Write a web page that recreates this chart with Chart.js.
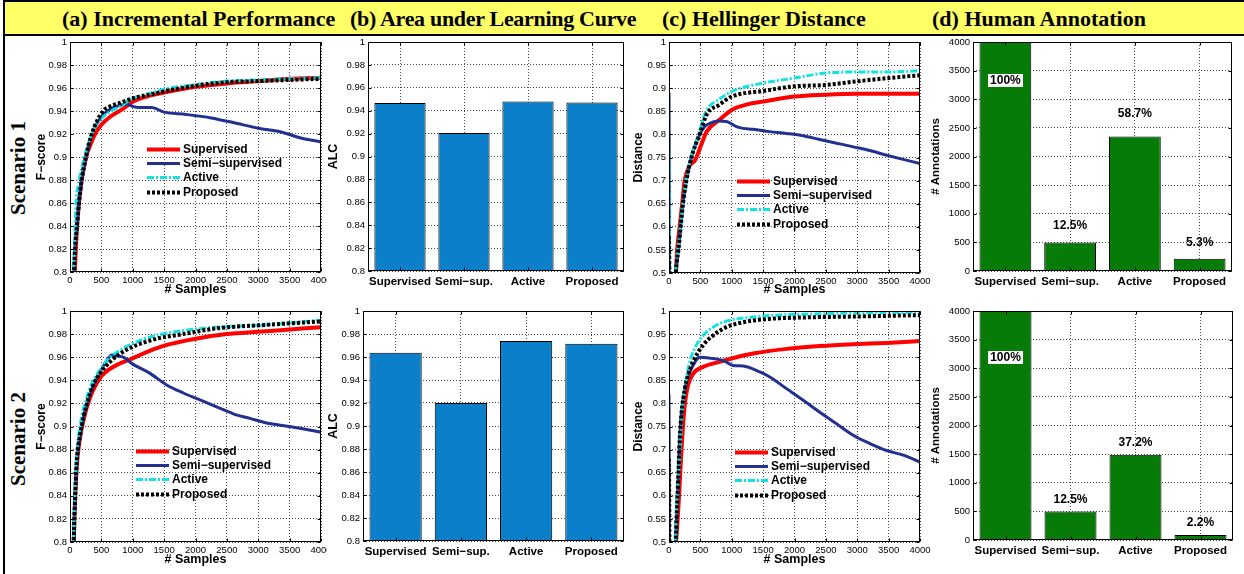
<!DOCTYPE html>
<html>
<head>
<meta charset="utf-8">
<script src="https://cdn.jsdelivr.net/npm/chart.js@4.4.1/dist/chart.umd.min.js"></script>
<style>
  html, body { margin: 0; padding: 0; background: #fff; }
  #page { position: relative; width: 1244px; height: 574px; overflow: hidden; background: #fff; }
  #bar { position: absolute; left: 3px; top: 0; width: 1241px; height: 32px; background: #ffff66;
         border-top: 2px solid #000; border-bottom: 2px solid #000; }
  #edge { position: absolute; left: 3px; top: 0; width: 2px; height: 574px; background: #000; }
  .head { position: absolute; top: 7px; font: bold 22px "Liberation Serif", "Times New Roman", serif;
          white-space: nowrap; line-height: 24px; color: #000; }
  .scen { position: absolute; font: bold 21px "Liberation Serif", "Times New Roman", serif; white-space: nowrap;
          color: #000; transform: translate(-50%, -50%) rotate(-90deg); }
  canvas { position: absolute; }
</style>
</head>
<body>
<div id="page">
  <div id="bar"></div>
  <div id="edge"></div>
  <div class="head" style="left:62px">(a) Incremental Performance</div>
  <div class="head" style="left:350px; letter-spacing:-0.3px">(b) Area under Learning Curve</div>
  <div class="head" style="left:662px">(c) Hellinger Distance</div>
  <div class="head" style="left:932px">(d) Human Annotation</div>
  <div class="scen" style="left:18px; top:168px">Scenario 1</div>
  <div class="scen" style="left:18px; top:439px">Scenario 2</div>
</div>
<script>
// ---------------- data ----------------
const methodNames = ['Supervised', 'Semi\u2212supervised', 'Active', 'Proposed'];
const barCategories = ['Supervised', 'Semi\u2212sup.', 'Active', 'Proposed'];

const sampleTicks = [0, 500, 1000, 1500, 2000, 2500, 3000, 3500, 4000];
const fScoreTicks = [0.8, 0.82, 0.84, 0.86, 0.88, 0.9, 0.92, 0.94, 0.96, 0.98, 1];
const distanceTicks = [0.5, 0.55, 0.6, 0.65, 0.7, 0.75, 0.8, 0.85, 0.9, 0.95, 1];
const alcTicks = [0.8, 0.82, 0.84, 0.86, 0.88, 0.9, 0.92, 0.94, 0.96, 0.98, 1];
const annotationTicks = [0, 500, 1000, 1500, 2000, 2500, 3000, 3500, 4000];

// Scenario 1, F-score against number of samples: [samples, F-score]
const s1FSupervised = [[50,0.78],[80,0.805],[112,0.84],[143,0.86],[186,0.88],[255,0.9],[320,0.91],[400,0.92],[500,0.928],[640,0.935],[850,0.942],[1000,0.948],[1250,0.953],[1500,0.956],[2000,0.961],[2500,0.964],[3000,0.966],[3500,0.968],[4000,0.969]];
const s1FSemi = [[50,0.78],[80,0.82],[112,0.84],[143,0.86],[186,0.88],[255,0.9],[346,0.92],[500,0.935],[650,0.942],[800,0.945],[900,0.946],[1000,0.944],[1100,0.943],[1300,0.943],[1500,0.939],[1850,0.937],[2250,0.934],[2600,0.93],[3000,0.925],[3350,0.922],[3650,0.917],[4000,0.913]];
const s1FActive = [[50,0.79],[70,0.82],[96,0.86],[130,0.875],[186,0.89],[255,0.905],[346,0.92],[450,0.93],[550,0.936],[660,0.94],[800,0.944],[1000,0.951],[1250,0.955],[1500,0.959],[2000,0.963],[2500,0.966],[3000,0.967],[3500,0.968],[4000,0.969]];
const s1FProposed = [[50,0.78],[80,0.82],[112,0.84],[143,0.86],[186,0.88],[255,0.9],[346,0.92],[530,0.94],[640,0.944],[800,0.947],[1000,0.951],[1250,0.954],[1500,0.957],[2000,0.962],[2500,0.965],[3000,0.966],[3500,0.967],[4000,0.968]];

// Scenario 1, Hellinger distance: [samples, distance]
const s1HSupervised = [[0,0.45],[100,0.48],[130,0.55],[170,0.6],[210,0.65],[250,0.7],[320,0.73],[420,0.745],[520,0.78],[600,0.806],[800,0.831],[1000,0.853],[1250,0.865],[1500,0.871],[2000,0.882],[2500,0.886],[3000,0.888],[3500,0.888],[4000,0.888]];
const s1HSemi = [[0,0.89],[12,0.45],[100,0.49],[120,0.52],[150,0.55],[186,0.6],[223,0.65],[277,0.7],[356,0.75],[489,0.8],[570,0.817],[620,0.822],[800,0.829],[915,0.828],[1075,0.817],[1180,0.813],[1340,0.811],[1600,0.806],[1870,0.802],[2140,0.797],[2400,0.789],[2670,0.781],[2940,0.773],[3200,0.765],[3470,0.755],[3730,0.746],[4000,0.737]];
const s1HActive = [[0,0.76],[12,0.45],[95,0.5],[140,0.55],[180,0.6],[220,0.65],[270,0.7],[350,0.75],[470,0.8],[590,0.85],[800,0.876],[1000,0.893],[1500,0.911],[2000,0.922],[2500,0.933],[3000,0.935],[3500,0.935],[4000,0.938]];
const s1HProposed = [[0,0.58],[12,0.45],[100,0.49],[120,0.52],[150,0.55],[186,0.6],[223,0.65],[277,0.7],[356,0.75],[489,0.8],[600,0.843],[800,0.864],[1000,0.882],[1500,0.894],[2000,0.904],[2500,0.907],[3000,0.915],[3500,0.922],[4000,0.928]];

// Scenario 2, F-score
const s2FSupervised = [[50,0.78],[70,0.82],[106,0.864],[159,0.89],[212,0.905],[319,0.925],[478,0.942],[700,0.952],[1000,0.959],[1250,0.965],[1500,0.97],[2000,0.976],[2500,0.98],[3000,0.982],[3500,0.984],[4000,0.986]];
const s2FSemi = [[50,0.78],[70,0.82],[106,0.866],[159,0.892],[266,0.919],[372,0.936],[478,0.947],[584,0.957],[664,0.962],[750,0.961],[850,0.96],[1000,0.954],[1275,0.946],[1540,0.936],[1806,0.929],[2072,0.923],[2337,0.917],[2603,0.911],[2869,0.907],[3134,0.903],[3500,0.9],[4000,0.895]];
const s2FActive = [[50,0.79],[70,0.83],[100,0.87],[159,0.9],[266,0.925],[372,0.94],[478,0.949],[637,0.96],[800,0.966],[1000,0.972],[1380,0.979],[1800,0.983],[2340,0.986],[3130,0.988],[4000,0.992]];
const s2FProposed = [[50,0.78],[70,0.82],[90,0.85],[106,0.869],[159,0.892],[266,0.919],[372,0.936],[478,0.946],[637,0.956],[797,0.963],[1000,0.969],[1380,0.976],[1800,0.98],[2340,0.985],[3130,0.988],[4000,0.991]];

// Scenario 2, Hellinger distance
const s2HSupervised = [[0,0.45],[110,0.5],[160,0.6],[197,0.695],[250,0.796],[303,0.839],[383,0.864],[543,0.879],[809,0.89],[1074,0.9],[1340,0.908],[1872,0.918],[2404,0.924],[2936,0.928],[3468,0.931],[4000,0.935]];
const s2HSemi = [[0,0.82],[10,0.45],[100,0.48],[120,0.55],[150,0.65],[170,0.72],[200,0.78],[277,0.846],[383,0.882],[489,0.9],[649,0.898],[862,0.893],[1021,0.882],[1181,0.881],[1447,0.868],[1606,0.857],[1872,0.832],[2138,0.807],[2404,0.781],[2670,0.756],[2936,0.731],[3202,0.713],[3468,0.698],[3734,0.688],[4000,0.673]];
const s2HActive = [[0,0.45],[95,0.5],[130,0.6],[170,0.68],[200,0.76],[250,0.83],[330,0.89],[436,0.926],[543,0.947],[702,0.965],[915,0.978],[1340,0.987],[1872,0.992],[2404,0.994],[3000,0.996],[4000,0.998]];
const s2HProposed = [[0,0.68],[10,0.45],[100,0.48],[120,0.55],[150,0.65],[170,0.72],[200,0.78],[250,0.83],[300,0.86],[383,0.89],[543,0.926],[702,0.947],[915,0.965],[1234,0.977],[1606,0.983],[2138,0.986],[2936,0.988],[4000,0.991]];

// Area under learning curve per method
const s1ALC = [0.9467, 0.9205, 0.948, 0.9472];
const s2ALC = [0.9638, 0.92, 0.9739, 0.9716];

// Number of human annotations per method (out of the full pool)
const annotationPool = 4000;
const s1Annotations = [4000, 500, 2348, 212];
const s2Annotations = [4000, 500, 1488, 88];

// ---------------- styling ----------------
const SANS = '"Liberation Sans", Arial, Helvetica, sans-serif';
Chart.defaults.font.family = SANS;
Chart.defaults.color = '#000';
const GRID = 'rgba(0,0,0,0.7)';
const seriesStyle = [
  { borderColor: '#ff0000', borderWidth: 4, borderDash: [], order: 3 },
  { borderColor: '#22308f', borderWidth: 3, borderDash: [], order: 2 },
  { borderColor: '#12e2e2', borderWidth: 3, borderDash: [7, 2, 2, 2], order: 1 },
  { borderColor: '#000000', borderWidth: 4, borderDash: [3, 2], order: 0 }
];
const tickFont = { size: 9.5 };

// solid box around the plot with short inward tick marks
const boxPlugin = {
  id: 'plotBox',
  afterDraw(chart) {
    const { ctx, chartArea: a, scales } = chart;
    const L = Math.round(a.left) + 0.5, R = Math.round(a.right) - 0.5;
    const T = Math.round(a.top) + 0.5, B = Math.round(a.bottom) - 0.5;
    const tl = 3;
    ctx.save();
    ctx.setLineDash([]);
    ctx.strokeStyle = '#000';
    ctx.lineWidth = 1;
    ctx.beginPath();
    scales.x.ticks.forEach((t, i) => {
      const px = Math.round(scales.x.getPixelForTick(i)) + 0.5;
      ctx.moveTo(px, B); ctx.lineTo(px, B - tl);
      ctx.moveTo(px, T); ctx.lineTo(px, T + tl);
    });
    scales.y.ticks.forEach((t, i) => {
      const py = Math.round(scales.y.getPixelForTick(i)) + 0.5;
      ctx.moveTo(L, py); ctx.lineTo(L + tl, py);
      ctx.moveTo(R, py); ctx.lineTo(R - tl, py);
    });
    ctx.stroke();
    ctx.strokeRect(L, T, R - L, B - T);
    ctx.restore();
  }
};

// legend drawn inside the plot area
const innerLegend = {
  id: 'innerLegend',
  afterDraw(chart, args, opts) {
    if (!opts || !opts.at) return;
    const { ctx, chartArea: a } = chart;
    const x0 = a.left + opts.at[0], y0 = a.top + opts.at[1];
    ctx.save();
    ctx.font = 'bold 12px ' + SANS;
    ctx.textBaseline = 'middle';
    ctx.textAlign = 'left';
    chart.data.datasets.forEach((ds, i) => {
      const y = Math.round(y0 + i * opts.rowGap) + 0.5;
      ctx.strokeStyle = ds.borderColor;
      ctx.lineWidth = ds.borderWidth;
      ctx.setLineDash(ds.borderDash || []);
      ctx.beginPath();
      ctx.moveTo(x0, y);
      ctx.lineTo(x0 + opts.sample, y);
      ctx.stroke();
      ctx.fillStyle = '#000';
      ctx.fillText(ds.label, x0 + opts.sample + 3, y);
    });
    ctx.restore();
  }
};

// percentage labels on the annotation bars
const pctLabels = {
  id: 'pctLabels',
  afterDraw(chart, args, opts) {
    if (!opts || !opts.offsets) return;
    const { ctx } = chart;
    const meta = chart.getDatasetMeta(0);
    const values = chart.data.datasets[0].data;
    ctx.save();
    ctx.font = 'bold 12px ' + SANS;
    ctx.textAlign = 'center';
    ctx.textBaseline = 'middle';
    meta.data.forEach((bar, i) => {
      const pct = values[i] / opts.total * 100;
      const text = (Number.isInteger(pct) ? String(pct) : pct.toFixed(1)) + '%';
      const x = bar.x, y = bar.y + opts.offsets[i];
      if (opts.boxed[i]) {
        const w = ctx.measureText(text).width + 4;
        ctx.fillStyle = '#fff';
        ctx.fillRect(Math.round(x - w / 2), Math.round(y - 7), Math.round(w), 13);
      }
      ctx.fillStyle = '#000';
      ctx.fillText(text, x, y);
    });
    ctx.restore();
  }
};
Chart.register(boxPlugin, innerLegend, pctLabels);

// ---------------- layout helpers ----------------
function makeCanvas(box) {
  const c = document.createElement('canvas');
  c.width = box[2] - box[0];
  c.height = box[3] - box[1];
  c.style.left = box[0] + 'px';
  c.style.top = box[1] + 'px';
  c.style.width = c.width + 'px';
  c.style.height = c.height + 'px';
  document.getElementById('page').appendChild(c);
  return c;
}
function fixedTicks(list) {
  return s => { s.ticks = list.map(v => ({ value: v })); };
}

function lineChart(box, plot, series, yTicks, yTitle, yTitleSize, xTitleGap, legendAt) {
  const yWidth = plot[0] - box[0];
  const xHeight = box[3] - plot[3];
  return new Chart(makeCanvas(box), {
    type: 'line',
    data: {
      datasets: series.map((pts, i) => Object.assign({
        label: methodNames[i],
        data: pts.map(p => ({ x: p[0], y: p[1] })),
        pointRadius: 0,
        fill: false,
        cubicInterpolationMode: 'monotone',
        borderCapStyle: 'butt',
        borderJoinStyle: 'round'
      }, seriesStyle[i]))
    },
    options: {
      responsive: false, animation: false, devicePixelRatio: 1,
      layout: { padding: { left: 0, top: plot[1] - box[1], right: box[2] - plot[2], bottom: 0 } },
      plugins: {
        legend: { display: false }, tooltip: { enabled: false },
        innerLegend: { at: legendAt, rowGap: 14.2, sample: 33 }
      },
      scales: {
        x: {
          type: 'linear', min: sampleTicks[0], max: sampleTicks[sampleTicks.length - 1],
          afterBuildTicks: fixedTicks(sampleTicks),
          ticks: { font: tickFont, padding: 3, maxRotation: 0, autoSkip: false, callback: v => String(v) },
          grid: { color: GRID, lineWidth: 1, drawTicks: false },
          border: { display: false, dash: [1, 2] },
          title: { display: true, text: '# Samples', font: { size: 12.5, weight: 'bold' }, padding: { top: 0, bottom: xTitleGap } },
          afterFit: s => { s.height = xHeight; s.paddingLeft = 0; s.paddingRight = 0; }
        },
        y: {
          type: 'linear', min: yTicks[0], max: yTicks[yTicks.length - 1],
          afterBuildTicks: fixedTicks(yTicks),
          ticks: { font: tickFont, padding: 3, autoSkip: false, callback: v => String(+v.toFixed(2)) },
          grid: { color: GRID, lineWidth: 1, drawTicks: false },
          border: { display: false, dash: [1, 2] },
          title: { display: true, text: yTitle, font: { size: yTitleSize, weight: 'bold' }, padding: { top: 12 - 0.6 * yTitleSize, bottom: 0 } },
          afterFit: s => { s.width = yWidth; s.paddingTop = 0; s.paddingBottom = 0; }
        }
      }
    }
  });
}

function barChart(box, plot, values, color, yTicks, yTitle, yTitleSize, labelOpts) {
  const yWidth = plot[0] - box[0];
  const xHeight = box[3] - plot[3];
  return new Chart(makeCanvas(box), {
    type: 'bar',
    data: {
      labels: barCategories,
      datasets: [{
        data: values, base: yTicks[0],
        backgroundColor: color, borderColor: '#000', borderWidth: 1, borderSkipped: 'start',
        barPercentage: 0.8, categoryPercentage: 1
      }]
    },
    options: {
      responsive: false, animation: false, devicePixelRatio: 1,
      layout: { padding: { left: 0, top: plot[1] - box[1], right: box[2] - plot[2], bottom: 0 } },
      plugins: {
        legend: { display: false }, tooltip: { enabled: false },
        pctLabels: labelOpts || {}
      },
      scales: {
        x: {
          type: 'category',
          ticks: { font: { size: 11.5, weight: 'bold' }, padding: 4, maxRotation: 0, autoSkip: false },
          grid: { color: GRID, lineWidth: 1, drawTicks: false, offset: false },
          border: { display: false, dash: [1, 2] },
          afterFit: s => { s.height = xHeight; s.paddingLeft = 0; s.paddingRight = 0; }
        },
        y: {
          type: 'linear', min: yTicks[0], max: yTicks[yTicks.length - 1],
          afterBuildTicks: fixedTicks(yTicks),
          ticks: { font: tickFont, padding: 3, autoSkip: false, callback: v => String(+v.toFixed(2)) },
          grid: { color: GRID, lineWidth: 1, drawTicks: false },
          border: { display: false, dash: [1, 2] },
          title: { display: true, text: yTitle, font: { size: yTitleSize, weight: 'bold' }, padding: { top: 12 - 0.6 * yTitleSize, bottom: 0 } },
          afterFit: s => { s.width = yWidth; s.paddingTop = 0; s.paddingBottom = 0; }
        }
      }
    }
  });
}

const ALC_BLUE = '#0b7fca';
const ANN_GREEN = '#077b07';

// Scenario 1 row
lineChart([30, 36, 327, 300], [70, 42, 321, 272],
  [s1FSupervised, s1FSemi, s1FActive, s1FProposed], fScoreTicks, 'F\u2212score', 12, 2.8, [77, 107]);
barChart([322, 36, 632, 300], [368, 42, 624, 271], s1ALC, ALC_BLUE, alcTicks, 'ALC', 12.5);
lineChart([627, 36, 935, 300], [669, 42, 920, 273],
  [s1HSupervised, s1HSemi, s1HActive, s1HProposed], distanceTicks, 'Distance', 12, 2.8, [68, 139]);
barChart([924, 36, 1244, 300], [973, 42, 1232, 271], s1Annotations, ANN_GREEN, annotationTicks, '# Annotations', 11.5,
  { total: annotationPool, offsets: [39, -17, -23, -16], boxed: [true, false, false, false] });

// Scenario 2 row
lineChart([30, 300, 327, 574], [70, 311, 321, 542],
  [s2FSupervised, s2FSemi, s2FActive, s2FProposed], fScoreTicks, 'F\u2212score', 12, 6.8, [66, 140]);
barChart([322, 300, 632, 574], [363, 311, 624, 541], s2ALC, ALC_BLUE, alcTicks, 'ALC', 12.5);
lineChart([627, 300, 935, 574], [669, 311, 920, 542],
  [s2HSupervised, s2HSemi, s2HActive, s2HProposed], distanceTicks, 'Distance', 12, 6.8, [66, 141]);
barChart([924, 300, 1244, 574], [973, 311, 1233, 540], s2Annotations, ANN_GREEN, annotationTicks, '# Annotations', 11.5,
  { total: annotationPool, offsets: [47, -12, -12, -12], boxed: [true, false, false, false] });
</script>
</body>
</html>
